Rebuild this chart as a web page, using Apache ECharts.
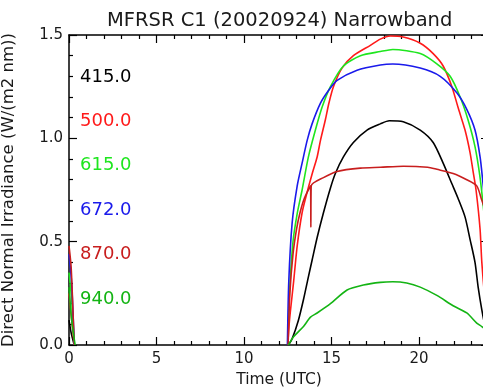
<!DOCTYPE html>
<html>
<head>
<meta charset="utf-8">
<script src="https://cdn.jsdelivr.net/npm/echarts@6/dist/echarts.min.js"></script>
<style>
  html, body { margin: 0; padding: 0; background: #fff; overflow: hidden; }
  #chart { width: 483px; height: 388px; }
</style>
</head>
<body>
<div id="chart"></div>
<script>
// MFRSR narrowband direct normal irradiance, 2002-09-24, per filter channel.
// Each series is a list of [hour UTC, irradiance W/(m2 nm)]; null splits the night gap.
const channels = ['415.0', '500.0', '615.0', '672.0', '870.0', '940.0'];
const colors = ['#000000', '#ff1a1a', '#1ee61e', '#1a1aeb', '#c81e1e', '#14b414'];

const ch415 = [
  [0.0, 0.12], [0.12, 0.06], [0.3, 0.0], [6, null],
  [12.54, 0.0], [12.75, 0.03], [13.11, 0.12], [13.4, 0.22], [13.68, 0.33], [13.89, 0.41],
  [14.18, 0.52], [14.54, 0.64], [14.94, 0.76], [15.22, 0.83], [15.68, 0.91], [16.25, 0.98],
  [17.03, 1.04], [17.79, 1.07], [18.3, 1.085], [19.1, 1.08], [20.07, 1.04], [20.81, 0.98],
  [21.38, 0.88], [21.88, 0.78], [22.23, 0.71], [22.63, 0.62], [22.92, 0.51], [23.2, 0.40],
  [23.38, 0.28], [23.59, 0.17], [23.8, 0.08], [24.0, 0.02]
];
const ch500 = [
  [0.0, 0.25], [0.12, 0.15], [0.3, 0.0], [6, null],
  [12.5, 0.0], [12.6, 0.12], [12.84, 0.31], [13.04, 0.48], [13.32, 0.64], [13.61, 0.74],
  [13.9, 0.83], [14.18, 0.91], [14.37, 0.99], [14.65, 1.09], [14.85, 1.17], [15.11, 1.25],
  [15.6, 1.34], [16.25, 1.40], [17.22, 1.45], [17.79, 1.48], [18.36, 1.495], [19.1, 1.49],
  [20.07, 1.46], [20.81, 1.41], [21.38, 1.35], [21.88, 1.25], [22.23, 1.15], [22.63, 1.04],
  [22.92, 0.93], [23.09, 0.84], [23.26, 0.75], [23.49, 0.56], [23.59, 0.40], [23.8, 0.2],
  [24.0, 0.1]
];
const ch615 = [
  [0.0, 0.35], [0.15, 0.22], [0.3, 0.0], [6, null],
  [12.5, 0.0], [12.58, 0.22], [12.8, 0.5], [13.05, 0.64], [13.32, 0.75], [13.68, 0.91],
  [14.08, 1.04], [14.46, 1.15], [14.94, 1.25], [15.68, 1.35], [16.65, 1.40], [17.79, 1.42],
  [18.5, 1.43], [20.07, 1.41], [21.02, 1.36], [21.78, 1.30], [22.35, 1.20], [22.8, 1.09],
  [23.2, 0.96], [23.49, 0.81], [23.7, 0.65], [24.0, 0.4]
];
const ch672 = [
  [0.0, 0.44], [0.15, 0.3], [0.3, 0.0], [6, null],
  [12.48, 0.0], [12.56, 0.31], [12.75, 0.59], [13.04, 0.77], [13.32, 0.88], [13.61, 0.99],
  [13.89, 1.07], [14.37, 1.17], [14.82, 1.23], [15.32, 1.28], [16.46, 1.33], [17.79, 1.355],
  [18.5, 1.36], [20.07, 1.34], [21.21, 1.30], [22.16, 1.22], [22.73, 1.14], [23.2, 1.04],
  [23.49, 0.91], [23.66, 0.78], [24.0, 0.5]
];
const ch870 = [
  [0.0, 0.48], [0.12, 0.38], [0.22, 0.18], [0.3, 0.0], [6, null],
  [12.52, 0.0], [12.62, 0.25], [12.8, 0.44], [13.0, 0.56], [13.2, 0.64], [13.45, 0.71],
  [13.8, 0.77], [13.82, 0.57], [13.84, 0.77], [14.54, 0.81], [15.32, 0.84], [16.65, 0.856],
  [17.8, 0.86], [19.1, 0.865], [20.5, 0.86], [21.02, 0.85], [21.95, 0.83], [22.73, 0.80],
  [23.3, 0.77], [23.59, 0.70], [24.0, 0.6]
];
const ch940 = [
  [0.0, 0.28], [0.15, 0.12], [0.35, 0.0], [6, null],
  [12.54, 0.0], [12.83, 0.04], [13.4, 0.09], [13.8, 0.135], [14.18, 0.155], [14.94, 0.20],
  [15.89, 0.266], [16.82, 0.29], [17.79, 0.303], [18.5, 0.306], [19.3, 0.30], [20.07, 0.28],
  [21.02, 0.24], [21.95, 0.19], [22.73, 0.155], [23.3, 0.106], [23.59, 0.089], [24.0, 0.06]
];
const seriesValues = [ch415, ch500, ch615, ch672, ch870, ch940];

const xTicks = { min: 0, max: 24, interval: 5 };
const yTicks = { min: 0, max: 1.5, interval: 0.5 };

const font = 'DejaVu Sans';
const axisColor = '#000';
const textColor = '#1a1a1a';

function tickAxis(opts) {
  return Object.assign({
    type: 'value',
    axisLine: { show: true, onZero: false, lineStyle: { color: axisColor, width: 1.5 } },
    axisTick: { show: true, inside: true, length: 8, lineStyle: { color: axisColor, width: 1.2 } },
    minorTick: { show: true, splitNumber: 5, length: 4, lineStyle: { color: axisColor, width: 1.2 } },
    splitLine: { show: false },
    minorSplitLine: { show: false }
  }, opts);
}

const chart = echarts.init(document.getElementById('chart'), null, { renderer: 'canvas' });

chart.setOption({
  animation: false,
  backgroundColor: '#fff',
  title: {
    text: 'MFRSR C1 (20020924) Narrowband',
    left: 102, top: 6,
    textStyle: { fontFamily: font, fontSize: 19.5, fontWeight: 'normal', color: textColor }
  },
  legend: {
    orient: 'vertical',
    left: 70, top: 62,
    itemGap: 24.4,
    itemWidth: 0, itemHeight: 20,
    icon: 'none',
    selectedMode: false,
    data: channels.map((c, i) => ({ name: c, textStyle: { color: colors[i] } })),
    textStyle: { fontFamily: font, fontSize: 18, lineHeight: 20 }
  },
  // the plot runs to 24 h, a few pixels past the right edge of the view
  grid: { left: 69, top: 35, width: 420, bottom: 43, outerBoundsMode: 'none', containLabel: false },
  xAxis: [
    tickAxis({
      position: 'bottom', min: xTicks.min, max: xTicks.max, interval: xTicks.interval,
      name: 'Time (UTC)', nameLocation: 'middle', nameGap: 26,
      nameTextStyle: { fontFamily: font, fontSize: 15.5, color: textColor },
      axisLabel: { fontFamily: font, fontSize: 15, color: textColor, margin: 7, showMaxLabel: false }
    }),
    tickAxis({
      position: 'top', min: xTicks.min, max: xTicks.max, interval: xTicks.interval,
      axisLabel: { show: false }
    })
  ],
  yAxis: [
    tickAxis({
      position: 'left', min: yTicks.min, max: yTicks.max, interval: yTicks.interval,
      name: 'Direct Normal Irradiance (W/(m2 nm))', nameLocation: 'middle', nameGap: 52,
      nameTextStyle: { fontFamily: font, fontSize: 16.5, color: textColor },
      axisLabel: { fontFamily: font, fontSize: 15, color: textColor, margin: 6,
        formatter: v => v.toFixed(1) }
    }),
    tickAxis({
      position: 'right', min: yTicks.min, max: yTicks.max, interval: yTicks.interval,
      axisLabel: { show: false }
    })
  ],
  series: seriesValues.map((vals, i) => ({
    name: channels[i],
    type: 'line',
    data: vals,
    showSymbol: false,
    smooth: 0.25,
    connectNulls: false,
    lineStyle: { color: colors[i], width: 1.6 },
    itemStyle: { color: colors[i] },
    z: 3
  }))
});
</script>
</body>
</html>
